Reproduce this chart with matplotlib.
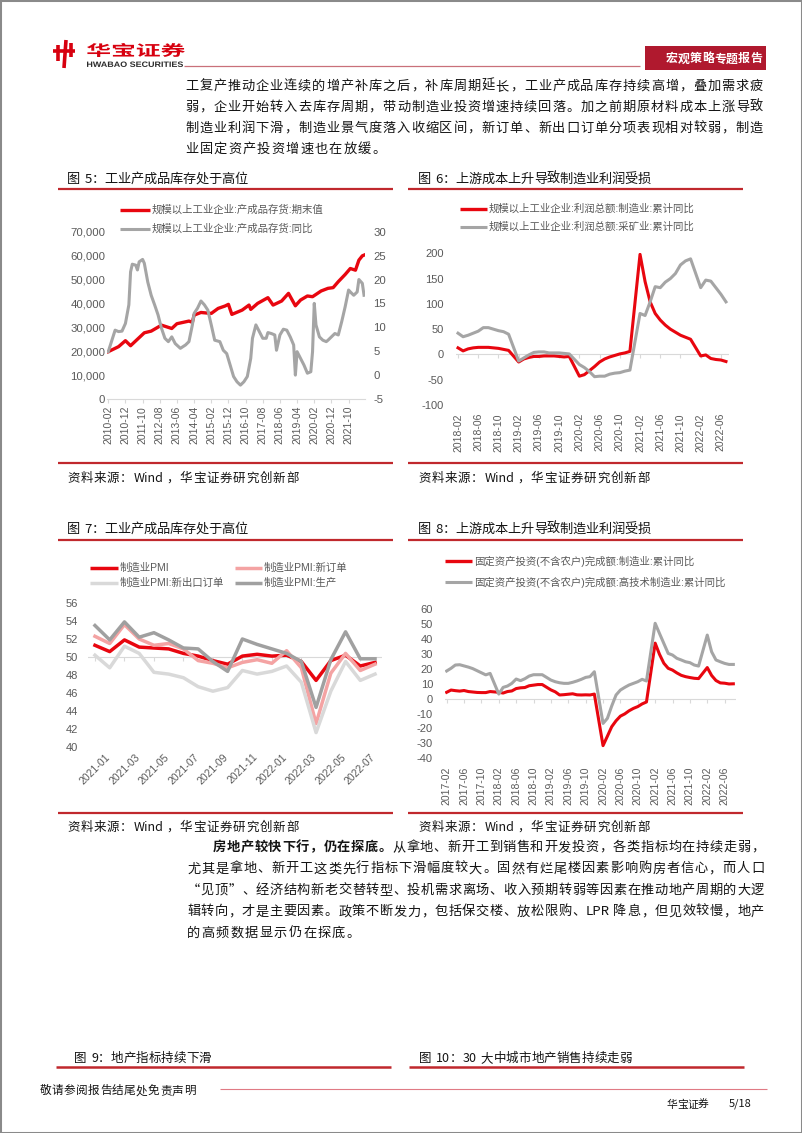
import matplotlib
matplotlib.use('Agg')
import matplotlib.pyplot as plt
from matplotlib.lines import Line2D
from matplotlib.patches import Rectangle, PathPatch
from matplotlib.textpath import TextPath
from matplotlib.font_manager import FontProperties
from matplotlib.transforms import Affine2D
import matplotlib.ticker as mticker

plt.rcParams['font.family'] = ['Liberation Sans', 'Noto Sans CJK SC', 'DejaVu Sans']
plt.rcParams['axes.unicode_minus'] = False

# ---------------------------------------------------------------- data
# Fig 5: finished goods inventory (left axis) and YoY (right axis, %)
inv_months = ['2010-02', '2010-08', '2010-12', '2011-03', '2011-11', '2012-03', '2012-09',
              '2013-03', '2013-06', '2014-01', '2014-03', '2014-04', '2014-08', '2015-02',
              '2015-06', '2015-10', '2015-12', '2016-02', '2016-08', '2016-12', '2017-01',
              '2017-05', '2017-11', '2018-02', '2018-07', '2018-11', '2019-03', '2019-06',
              '2019-10', '2020-01', '2020-06', '2020-10', '2021-01', '2021-04', '2021-08',
              '2021-11', '2022-02', '2022-04', '2022-06', '2022-07']
inv_value = [19800, 21900, 24400, 22300, 27700, 28400, 30900,
             29500, 31500, 32600, 32100, 35100, 36200, 35800,
             37900, 38900, 39600, 35400, 37200, 39300, 37500,
             40000, 42400, 39300, 41000, 44200, 39000, 41400,
             43100, 42800, 45200, 46300, 46600, 49100, 52100,
             54600, 53900, 58100, 59900, 60200]
yoy_months = ['2010-02', '2010-06', '2010-08', '2010-10', '2010-12', '2011-02', '2011-03',
              '2011-04', '2011-06', '2011-07', '2011-08', '2011-10', '2011-11', '2012-01',
              '2012-03', '2012-05', '2012-07', '2012-09', '2012-11', '2013-01', '2013-03',
              '2013-05', '2013-08', '2013-11', '2014-01', '2014-03', '2014-04', '2014-06',
              '2014-08', '2014-10', '2014-12', '2015-02', '2015-04', '2015-07', '2015-09',
              '2015-11', '2016-01', '2016-03', '2016-05', '2016-07', '2016-09', '2016-11',
              '2017-01', '2017-02', '2017-04', '2017-06', '2017-08', '2017-10', '2017-11',
              '2018-01', '2018-03', '2018-04', '2018-06', '2018-08', '2018-10', '2018-12',
              '2019-02', '2019-03', '2019-04', '2019-06', '2019-08', '2019-10', '2019-12',
              '2020-01', '2020-02', '2020-03', '2020-05', '2020-07', '2020-09', '2020-10',
              '2020-12', '2021-02', '2021-04', '2021-06', '2021-08', '2021-10', '2021-11',
              '2022-01', '2022-03', '2022-04', '2022-06', '2022-07']
inv_yoy = [4.9, 9.4, 9.1, 9.2, 10.8, 14.7, 21.6,
           23.2, 23.0, 22.0, 23.7, 24.2, 23.4, 19.5,
           16.7, 14.7, 12.6, 9.8, 7.7, 7.0, 8.0,
           6.6, 5.6, 6.3, 7.0, 10.5, 12.9, 14.0,
           15.5, 14.7, 13.6, 10.5, 7.3, 7.0, 5.2,
           4.5, 2.1, -0.3, -1.4, -2.1, -1.4, -0.3,
           3.5, 7.7, 10.5, 9.1, 7.7, 7.7, 8.9,
           8.7, 8.4, 5.2, 8.4, 9.6, 9.4, 8.0,
           6.3, 0.0, 4.9, 3.5, 2.1, 0.4, 0.7,
           4.9, 15.0, 10.5, 8.0, 7.3, 7.0, 7.3,
           8.0, 8.7, 8.4, 11.2, 14.3, 17.8, 17.4,
           16.7, 17.4, 20.0, 19.2, 16.7]
ticks5 = ['2010-02', '2010-12', '2011-10', '2012-08', '2013-06', '2014-04', '2015-02',
          '2015-12', '2016-10', '2017-08', '2018-06', '2019-04', '2020-02', '2020-12', '2021-10']
names5 = ['规模以上工业企业:产成品存货:期末值', '规模以上工业企业:产成品存货:同比']

# Fig 6: profit cumulative YoY (%), months without January
profit_months = [f'{y}-{m:02d}' for y in range(2018, 2023) for m in range(2, 13)][:50]
profit_mfg = [13, 7, 11, 13, 14, 14, 14, 13, 12, 10, 8,
              -15, -9, -6, -4, -4, -3, -3, -3, -4, -5, -4,
              -43, -40, -32, -24, -15, -9, -5, -2, 1, 3, 6,
              198, 144, 104, 81, 68, 58, 50, 44, 38, 34, 30,
              -3, -1, -8, -10, -11, -14]
profit_mining = [42, 35, 38, 42, 46, 53, 53, 50, 47, 45, 40,
                 -13, -7, -1, 4, 5, 5, 3, 3, 3, 2, 1,
                 -20, -26, -34, -44, -43, -43, -39, -37, -36, -33, -31,
                 81, 77, 104, 134, 132, 143, 150, 160, 177, 185, 189,
                 132, 147, 145, 132, 119, 104]
ticks6 = ['2018-02', '2018-06', '2018-10', '2019-02', '2019-06', '2019-10', '2020-02',
          '2020-06', '2020-10', '2021-02', '2021-06', '2021-10', '2022-02', '2022-06']
names6 = ['规模以上工业企业:利润总额:制造业:累计同比', '规模以上工业企业:利润总额:采矿业:累计同比']

# Fig 7: PMI
pmi_months = ['2021-01', '2021-02', '2021-03', '2021-04', '2021-05', '2021-06', '2021-07',
              '2021-08', '2021-09', '2021-10', '2021-11', '2021-12', '2022-01', '2022-02',
              '2022-03', '2022-04', '2022-05', '2022-06', '2022-07', '2022-08']
pmi = [51.3, 50.6, 51.9, 51.1, 51.0, 50.9, 50.4, 50.1, 49.6, 49.2,
       50.1, 50.3, 50.1, 50.2, 49.5, 47.4, 49.6, 50.2, 49.0, 49.4]
pmi_new_orders = [52.3, 51.5, 53.6, 52.0, 51.3, 51.5, 50.9, 49.6, 49.3, 48.8,
                  49.4, 49.7, 49.3, 50.7, 48.8, 42.6, 48.2, 50.4, 48.5, 49.2]
pmi_export = [50.2, 48.8, 51.2, 50.4, 48.3, 48.1, 47.7, 46.7, 46.2, 46.6,
              48.5, 48.1, 48.4, 49.0, 47.2, 41.6, 46.2, 49.5, 47.4, 48.1]
pmi_production = [53.5, 51.9, 53.9, 52.2, 52.7, 51.9, 51.0, 50.9, 49.5, 48.4,
                  52.0, 51.4, 50.9, 50.4, 49.5, 44.4, 49.7, 52.8, 49.8, 49.8]
ticks7 = ['2021-01', '2021-03', '2021-05', '2021-07', '2021-09', '2021-11',
          '2022-01', '2022-03', '2022-05', '2022-07']
names7 = ['制造业PMI', '制造业PMI:新订单', '制造业PMI:新出口订单', '制造业PMI:生产']

# Fig 8: FAI cumulative YoY (%), months without January
fai_months = [f'{y}-{m:02d}' for y in range(2017, 2023) for m in range(2, 13)][:62]
fai_mfg = [4.3, 5.8, 5.4, 5.1, 5.5, 4.8, 4.5, 4.2, 4.1, 4.1, 4.8,
           4.3, 3.8, 4.8, 5.2, 6.8, 7.3, 7.5, 8.7, 9.1, 9.5, 9.5,
           5.9, 4.6, 2.5, 2.7, 3.0, 3.3, 2.6, 2.5, 2.6, 2.5, 3.1,
           -31.5, -25.2, -18.8, -14.8, -11.7, -10.2, -8.1, -6.5, -5.3, -3.5, -2.2,
           37.3, 29.8, 23.8, 20.4, 19.2, 17.3, 15.7, 14.8, 14.2, 13.7, 13.5,
           20.9, 15.6, 12.2, 10.6, 10.4, 9.9, 10.0]
fai_hitech = [18.6, 20.4, 22.6, 22.8, 22.0, 21.2, 20.2, 18.8, 17.4, 16.0, 17.0,
              3.1, 7.6, 8.5, 10.3, 13.2, 12.1, 13.4, 15.2, 16.1, 16.1, 16.1,
              12.5, 11.4, 10.7, 10.3, 10.3, 11.0, 11.9, 13.0, 14.3, 14.8, 18.1,
              -16.6, -13.2, -4.9, 2.5, 5.8, 7.6, 9.2, 10.3, 11.4, 13.0, 11.9,
              50.6, 43.8, 37.1, 30.4, 29.3, 27.1, 26.0, 24.8, 24.2, 22.6, 21.9,
              42.7, 31.5, 26.0, 24.8, 23.7, 23.0, 23.0]
ticks8 = ['2017-02', '2017-06', '2017-10', '2018-02', '2018-06', '2018-10', '2019-02',
          '2019-06', '2019-10', '2020-02', '2020-06', '2020-10', '2021-02', '2021-06',
          '2021-10', '2022-02', '2022-06']
names8 = ['固定资产投资(不含农户)完成额:制造业:累计同比',
          '固定资产投资(不含农户)完成额:高技术制造业:累计同比']

# text content
para1 = ['工复产推动企业连续的增产补库之后，补库周期延长，工业产成品库存持续高增，叠加需求疲',
         '弱，企业开始转入去库存周期，带动制造业投资增速持续回落。加之前期原材料成本上涨导致',
         '制造业利润下滑，制造业景气度落入收缩区间，新订单、新出口订单分项表现相对较弱，制造',
         '业固定资产投资增速也在放缓。']
para2_bold = '房地产较快下行，仍在探底。'
para2 = [para2_bold + '从拿地、新开工到销售和开发投资，各类指标均在持续走弱，',
         '尤其是拿地、新开工这类先行指标下滑幅度较大。固然有烂尾楼因素影响购房者信心，而人口',
         '“见顶”、经济结构新老交替转型、投机需求离场、收入预期转弱等因素在推动地产周期的大逻',
         '辑转向，才是主要因素。政策不断发力，包括保交楼、放松限购、LPR 降息，但见效较慢，地产',
         '的高频数据显示仍在探底。']
titles = ['图 5：工业产成品库存处于高位', '图 6：上游成本上升导致制造业利润受损',
          '图 7：工业产成品库存处于高位', '图 8：上游成本上升导致制造业利润受损',
          '图 9：地产指标持续下滑', '图 10：30 大中城市地产销售持续走弱']
source = '资料来源：Wind，华宝证券研究创新部'

# ---------------------------------------------------------------- figure
W, H = 802, 1133
fig = plt.figure(figsize=(W / 100, H / 100), dpi=100)

RED = '#E8060F'
GRAY = '#A5A5A5'
TICKC = '#595959'
AXC = '#D9D9D9'
SECRED = '#C0282D'
CJK = ['Noto Sans CJK SC', 'DejaVu Sans']


def fx(x):
    return x / W


def fy(y):
    return 1 - y / H


def hline(x0, x1, y, color, lw):
    fig.add_artist(Line2D([fx(x0), fx(x1)], [fy(y), fy(y)], color=color, lw=lw,
                          solid_capstyle='butt'))


def add_ax(l, t, r, b):
    ax = fig.add_axes([fx(l), fy(b), (r - l) / W, (b - t) / H])
    ax.set_facecolor('none')
    for s in ax.spines.values():
        s.set_visible(False)
    return ax


def tokenize(s):
    toks = []
    for c in s:
        if ord(c) < 0x2000 and c != ' ' and toks and toks[-1][1] == 'lat':
            toks[-1][0] += c
        elif ord(c) < 0x2000 and c != ' ':
            toks.append([c, 'lat'])
        elif c == ' ':
            toks.append([c, 'sp'])
        else:
            toks.append([c, 'cjk'])
    return toks


def put_line(s, x0, y, pitch=None, x1=None, size=9.5, bold_n=0, color='#141414', lat=0.55):
    toks = tokenize(s)
    units = [1.0 if k == 'cjk' else (0.35 if k == 'sp' else lat * len(t)) for t, k in toks]
    glyph = size * 100 / 72
    if pitch is None:
        pitch = (x1 - x0 - units[-1] * glyph) / sum(units[:-1])
    x = x0
    base = y + 0.37 * glyph
    n = 0
    for (t, k), u in zip(toks, units):
        if k != 'sp':
            fig.text(fx(x), fy(base), t, fontsize=size, color=color, ha='left',
                     va='baseline', family=CJK,
                     fontweight='bold' if n < bold_n else 'normal')
        n += len(t)
        x += u * pitch


def mpos(lbl, base):
    y, m = lbl.split('-')
    by, bm = base.split('-')
    return (int(y) - int(by)) * 12 + int(m) - int(bm)


def legend_entry(x0, x1, y, color, lw, label):
    fig.add_artist(Line2D([fx(x0), fx(x1)], [fy(y), fy(y)], color=color, lw=lw,
                          solid_capstyle='butt'))
    fig.text(fx(x1 + 2), fy(y), label, fontsize=7.5, color=TICKC, ha='left', va='center')


# page border
fig.add_artist(Rectangle((0, 0), 1, 1, transform=fig.transFigure, fill=False,
                         ec='#8a8a8a', lw=2.2))

# ---------------------------------------------------------------- header
LOGO = '#D7000F'


def stretched_text(s, x0, x1, ytop, ybot, color, weight='bold', family='Noto Sans CJK SC'):
    fp = FontProperties(family=family, weight=weight)
    tp = TextPath((0, 0), s, size=20, prop=fp)
    bb = tp.get_extents()
    sx = (x1 - x0) / bb.width
    sy = (ybot - ytop) / bb.height
    tr = (Affine2D().translate(-bb.x0, -bb.y0).scale(sx, sy).translate(x0, H - ybot)
          .scale(1 / W, 1 / H) + fig.transFigure)
    fig.add_artist(PathPatch(tp, transform=tr, fc=color, ec='none'))


stretched_text('华宝证券', 87, 185, 43, 57, LOGO)
stretched_text('HWABAO SECURITIES', 87, 183, 61.5, 67, '#2b2b2b', family='Liberation Sans')
# logo icon
for xs, ys in [([53, 75], [51, 51]), ([58, 58], [45, 61]), ([66, 64], [40, 68]),
               ([71, 71], [43, 57])]:
    fig.add_artist(Line2D([fx(v) for v in xs], [fy(v) for v in ys], color=LOGO, lw=2.6,
                          solid_capstyle='butt'))
hline(184, 640, 66, '#C9707A', 0.9)
fig.add_artist(Rectangle((fx(645), fy(69.5)), (766 - 645) / W, (69.5 - 46) / H,
                         transform=fig.transFigure, fc='#B0192E', ec='none'))
put_line('宏观策略专题报告', 666, 58, pitch=12.0, size=8.6, bold_n=8, color='white')

# ---------------------------------------------------------------- paragraph 1
for i, line in enumerate(para1):
    y = 85 + i * 21
    if i < len(para1) - 1:
        put_line(line, 185, y, x1=763)
    else:
        put_line(line, 185, y, pitch=14.4)

# ---------------------------------------------------------------- section titles / rules
put_line(titles[0], 67, 178, pitch=13.0, size=9.5)
put_line(titles[1], 418, 178, pitch=13.0, size=9.5)
hline(58, 393, 189, SECRED, 1.6)
hline(408, 743, 189, SECRED, 1.6)
hline(58, 393, 463, SECRED, 1.6)
hline(408, 743, 463, SECRED, 1.6)
put_line(source, 67, 477, pitch=13.3, size=9.0, lat=0.62)
put_line(source, 418, 477, pitch=13.3, size=9.0, lat=0.62)

put_line(titles[2], 67, 528, pitch=13.0, size=9.5)
put_line(titles[3], 418, 528, pitch=13.0, size=9.5)
hline(58, 393, 540, SECRED, 1.6)
hline(408, 743, 540, SECRED, 1.6)
hline(58, 393, 813, SECRED, 1.6)
hline(408, 743, 813, SECRED, 1.6)
put_line(source, 67, 826, pitch=13.3, size=9.0, lat=0.62)
put_line(source, 418, 826, pitch=13.3, size=9.0, lat=0.62)

# ---------------------------------------------------------------- Fig 5
ax5 = add_ax(107.4, 231.7, 364.9, 399)
ax5.plot([mpos(m, '2010-02') for m in inv_months], inv_value, color=RED, lw=2.4,
         solid_joinstyle='round', zorder=2)
ax5.set_xlim(-0.5, 149.5)
ax5.set_ylim(0, 70000)
ax5.set_yticks(range(0, 70001, 10000))
ax5.yaxis.set_major_formatter(mticker.FuncFormatter(lambda v, p: f'{int(v):,}'))
ax5.set_xticks([mpos(t, '2010-02') for t in ticks5])
ax5.set_xticklabels(ticks5, rotation=90)
ax5.spines['bottom'].set_visible(True)
ax5.spines['bottom'].set_color(AXC)
ax5.spines['bottom'].set_linewidth(0.8)
ax5.tick_params(axis='x', length=3, color=AXC, width=0.8, labelsize=7.5,
                labelcolor=TICKC, pad=2)
ax5.tick_params(axis='y', length=0, labelsize=8.2, labelcolor=TICKC, pad=1.5)
ax5r = ax5.twinx()
ax5r.set_facecolor('none')
for s in ax5r.spines.values():
    s.set_visible(False)
ax5r.plot([mpos(m, '2010-02') for m in yoy_months], inv_yoy, color=GRAY, lw=2.2,
          solid_joinstyle='round')
ax5r.set_ylim(-5, 30)
ax5r.set_yticks(range(-5, 31, 5))
ax5r.tick_params(axis='y', length=0, labelsize=8.2, labelcolor=TICKC, pad=6)
legend_entry(120, 150, 210, RED, 2.4, names5[0])
legend_entry(120, 150, 228.5, GRAY, 2.2, names5[1])

# ---------------------------------------------------------------- Fig 6
ax6 = add_ax(455.5, 253.3, 728.5, 405)
ax6.axhline(0, color=AXC, lw=0.8, zorder=1)
tp6 = [mpos(t, '2018-02') for t in ticks6]
ax6.plot(tp6, [0] * len(tp6), ls='none', marker=3, ms=3, mew=0.8, color=AXC, zorder=1)
ax6.plot([mpos(m, '2018-02') for m in profit_months], profit_mfg, color=RED, lw=2.2,
         solid_joinstyle='round', zorder=2)
ax6.plot([mpos(m, '2018-02') for m in profit_months], profit_mining, color=GRAY, lw=2.2,
         solid_joinstyle='round', zorder=3)
ax6.set_xlim(-0.5, 53.5)
ax6.set_ylim(-100, 200)
ax6.set_yticks(range(-100, 201, 50))
ax6.set_xticks(tp6)
ax6.set_xticklabels(ticks6, rotation=90)
ax6.tick_params(axis='x', length=0, labelsize=7.5, labelcolor=TICKC, pad=5.8)
ax6.tick_params(axis='y', length=0, labelsize=8.0, labelcolor=TICKC, pad=8.3)
legend_entry(460, 487, 209, RED, 2.4, names6[0])
legend_entry(460, 487, 227, GRAY, 2.2, names6[1])

# ---------------------------------------------------------------- Fig 7
ax7 = add_ax(87.6, 603, 382.4, 747)
ax7.axhline(50, color=AXC, lw=0.8, zorder=1)
tp7 = [mpos(t, '2021-01') for t in ticks7]
ax7.plot(tp7, [50] * len(tp7), ls='none', marker=3, ms=3, mew=0.8, color=AXC, zorder=1)
x7 = [mpos(m, '2021-01') for m in pmi_months]
cols7 = [RED, '#F4A3A3', '#D9D9D9', '#A0A0A0']
for i, ser in enumerate([pmi, pmi_new_orders, pmi_export, pmi_production]):
    ax7.plot(x7, ser, color=cols7[i], lw=2.5, solid_joinstyle='round', zorder=2 + i)
ax7.set_xlim(-0.5, 19.5)
ax7.set_ylim(40, 56)
ax7.set_yticks(range(40, 57, 2))
ax7.set_xticks(tp7)
ax7.set_xticklabels(ticks7, rotation=45, ha='center')
ax7.tick_params(axis='x', length=0, labelsize=7.5, labelcolor=TICKC, pad=3.5)
ax7.tick_params(axis='y', length=0, labelsize=8.0, labelcolor=TICKC, pad=7)
legend_entry(90, 118, 568, cols7[0], 2.5, names7[0])
legend_entry(235, 262, 568, cols7[1], 2.5, names7[1])
legend_entry(90, 118, 583, cols7[2], 2.5, names7[2])
legend_entry(235, 262, 583, cols7[3], 2.5, names7[3])

# ---------------------------------------------------------------- Fig 8
ax8 = add_ax(444.5, 609.3, 735.5, 758.3)
ax8.axhline(0, color=AXC, lw=0.8, zorder=1)
tp8 = [mpos(t, '2017-02') for t in ticks8]
ax8.plot(tp8, [0] * len(tp8), ls='none', marker=3, ms=3, mew=0.8, color=AXC, zorder=1)
x8 = [mpos(m, '2017-02') for m in fai_months]
ax8.plot(x8, fai_mfg, color=RED, lw=2.2, solid_joinstyle='round', zorder=2)
ax8.plot(x8, fai_hitech, color=GRAY, lw=2.2, solid_joinstyle='round', zorder=3)
ax8.set_xlim(-0.5, 66.5)
ax8.set_ylim(-40, 60)
ax8.set_yticks(range(-40, 61, 10))
ax8.set_xticks(tp8)
ax8.set_xticklabels(ticks8, rotation=90)
ax8.tick_params(axis='x', length=0, labelsize=7.5, labelcolor=TICKC, pad=6)
ax8.tick_params(axis='y', length=0, labelsize=8.0, labelcolor=TICKC, pad=8.3)
legend_entry(445, 472, 561, RED, 2.4, names8[0])
legend_entry(445, 472, 582, GRAY, 2.2, names8[1])

# ---------------------------------------------------------------- paragraph 2
for i, line in enumerate(para2):
    y = 846 + i * 21.5
    x0 = 213 if i == 0 else 187
    bn = len(para2_bold) if i == 0 else 0
    if i < len(para2) - 1:
        put_line(line, x0, y, x1=764, bold_n=bn)
    else:
        put_line(line, x0, y, pitch=14.5)

# ---------------------------------------------------------------- fig 9/10 titles
put_line(titles[4], 74, 1057, pitch=12.6, size=9.0)
put_line(titles[5], 419, 1057, pitch=12.6, size=9.0)
hline(56, 391, 1067, SECRED, 1.8)
hline(409, 744, 1067, SECRED, 1.8)

# ---------------------------------------------------------------- footer
put_line('敬请参阅报告结尾处免责声明', 40, 1090, pitch=12.0, size=8.4)
hline(220, 767, 1089, '#E07A84', 0.8)
put_line('华宝证券', 667, 1104, pitch=10.3, size=7.8)
fig.text(fx(729), fy(1104), '5/18', fontsize=8.0, color='#141414', ha='left',
         va='center', family=CJK)

fig.savefig('out.png', dpi=100)
